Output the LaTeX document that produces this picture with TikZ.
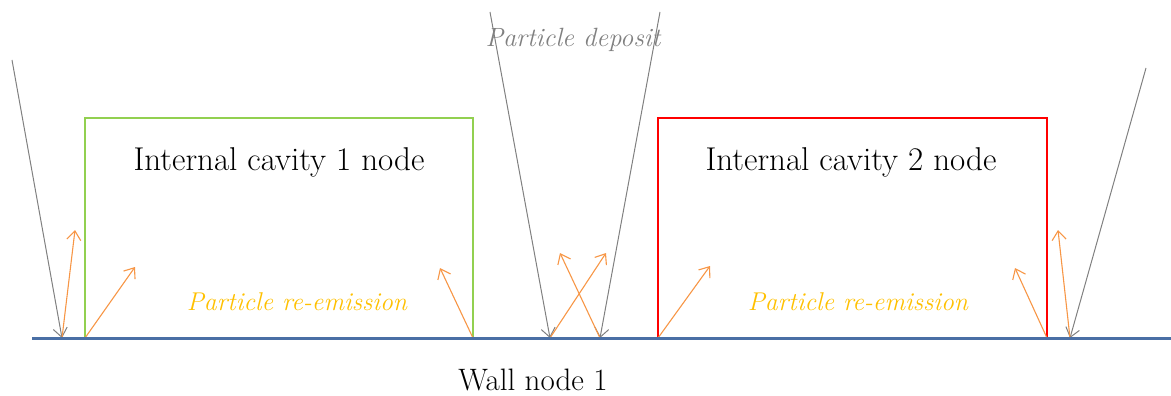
\documentclass[tikz,border=0pt]{standalone}
\usetikzlibrary{arrows.meta}
\definecolor{wallblue}{HTML}{4A6FA5}
\definecolor{boxgreen}{HTML}{92D050}
\definecolor{boxred}{HTML}{FF0000}
\definecolor{emitorange}{HTML}{F79646}
\definecolor{incgray}{HTML}{808080}
\definecolor{labgold}{HTML}{FFC000}
\begin{document}
\begin{tikzpicture}[x=1pt,y=-1pt,
  wall/.style={draw=wallblue,line width=3pt},
  cavity/.style={line width=2.2pt},
  incoming/.style={draw=incgray,line width=1pt,-{Straight Barb[length=9pt,width=14pt]}},
  emission/.style={draw=emitorange,line width=1.1pt,-{Straight Barb[length=9pt,width=14pt]}},
  bigtext/.style={font=\fontsize{33}{37}\selectfont,inner sep=0pt},
  walltext/.style={font=\fontsize{31}{34}\selectfont,inner sep=0pt},
  labtext/.style={font=\fontsize{25.7}{30}\selectfont\itshape,inner sep=0pt},
  deptext/.style={font=\fontsize{26.4}{30}\selectfont\itshape,inner sep=0pt}]
\useasboundingbox (0,0) rectangle (1171,396);
% wall points
\coordinate (wl) at (32,338);
\coordinate (wr) at (1171,338);
\coordinate (p1) at (62,338);
\coordinate (g1) at (85,338);
\coordinate (g2) at (473,338);
\coordinate (p2) at (550,338);
\coordinate (p3) at (600,338);
\coordinate (r1) at (658,338);
\coordinate (r2) at (1047,338);
\coordinate (p4) at (1070,338);
% box corners
\coordinate (gtl) at (85,118);
\coordinate (gtr) at (473,118);
\coordinate (rtl) at (658,118);
\coordinate (rtr) at (1047,118);
% incoming sources
\coordinate (s1) at (12,60);
\coordinate (s2) at (490,12);
\coordinate (s3) at (660,12);
\coordinate (s4) at (1146,68);
% emission tips
\coordinate (e1) at (75,230);
\coordinate (e2) at (135,267);
\coordinate (e3) at (440,268);
\coordinate (e4) at (606,253);
\coordinate (e5) at (560,253);
\coordinate (e6) at (710,266);
\coordinate (e7) at (1015,268);
\coordinate (e8) at (1058,230);

\draw[cavity,draw=boxgreen] (g1) -- (gtl) -- (gtr) -- (g2);
\draw[cavity,draw=boxred] (r1) -- (rtl) -- (rtr) -- (r2);

\draw[incoming] (s1) -- (p1);
\draw[incoming] (s2) -- (p2);
\draw[incoming] (s3) -- (p3);
\draw[incoming] (s4) -- (p4);

\draw[emission] (p1) -- (e1);
\draw[emission] (g1) -- (e2);
\draw[emission] (g2) -- (e3);
\draw[emission] (p2) -- (e4);
\draw[emission] (p3) -- (e5);
\draw[emission] (r1) -- (e6);
\draw[emission] (r2) -- (e7);
\draw[emission] (p4) -- (e8);

\draw[wall] (wl) -- (wr);

\node[bigtext] (c1) at (279,162) {Internal cavity 1 node};
\node[bigtext] (c2) at (851,162) {Internal cavity 2 node};
\node[labtext,text=labgold] (re1) at (297,302) {Particle re-emission};
\node[labtext,text=labgold] (re2) at (858,302) {Particle re-emission};
\node[deptext,text=incgray] (dep) at (573,40) {Particle deposit};
\node[walltext] (w1) at (533,380) {Wall node 1};
\end{tikzpicture}
\end{document}
